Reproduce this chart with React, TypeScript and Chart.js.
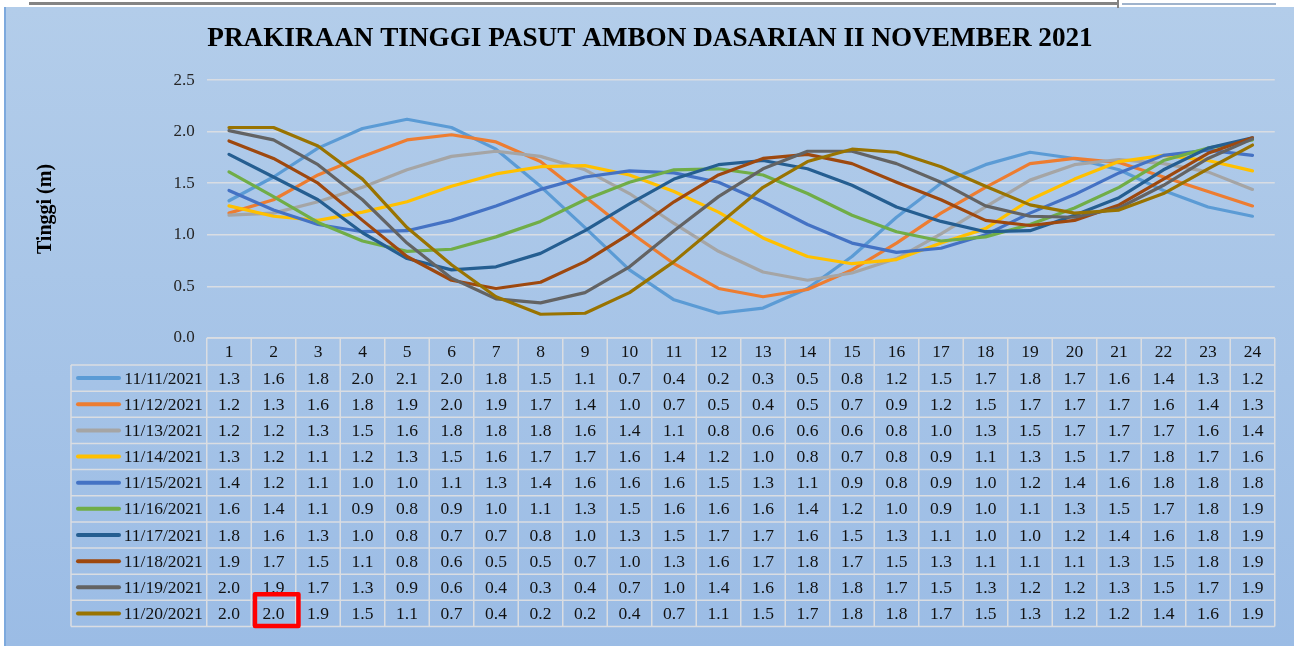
import React, { useEffect, useRef } from 'react';
import { Chart, registerables } from 'chart.js';

Chart.register(...registerables);

const chartTitle = 'PRAKIRAAN TINGGI PASUT AMBON DASARIAN II NOVEMBER 2021';
const yAxisTitle = 'Tinggi (m)';

const hours = ['1', '2', '3', '4', '5', '6', '7', '8', '9', '10', '11', '12', '13', '14', '15', '16', '17', '18', '19', '20', '21', '22', '23', '24'];

const dates = ['11/11/2021', '11/12/2021', '11/13/2021', '11/14/2021', '11/15/2021', '11/16/2021', '11/17/2021', '11/18/2021', '11/19/2021', '11/20/2021'];

const colors = ['#5B9BD5', '#ED7D31', '#A5A5A5', '#FFC000', '#4472C4', '#70AD47', '#255E91', '#9E480E', '#636363', '#997300'];

const nov11 = [1.33, 1.56, 1.84, 2.03, 2.12, 2.04, 1.83, 1.47, 1.07, 0.66, 0.37, 0.24, 0.29, 0.48, 0.79, 1.17, 1.5, 1.68, 1.8, 1.74, 1.63, 1.43, 1.27, 1.18];
const nov12 = [1.21, 1.34, 1.58, 1.76, 1.92, 1.97, 1.9, 1.71, 1.37, 1.03, 0.72, 0.48, 0.4, 0.47, 0.66, 0.92, 1.21, 1.46, 1.69, 1.74, 1.7, 1.56, 1.42, 1.28];
const nov13 = [1.19, 1.21, 1.32, 1.46, 1.63, 1.76, 1.81, 1.76, 1.63, 1.4, 1.11, 0.84, 0.64, 0.56, 0.63, 0.77, 1.01, 1.27, 1.53, 1.68, 1.73, 1.69, 1.61, 1.44];
const nov14 = [1.28, 1.18, 1.14, 1.22, 1.32, 1.47, 1.59, 1.66, 1.67, 1.58, 1.42, 1.22, 0.97, 0.79, 0.72, 0.76, 0.92, 1.06, 1.34, 1.54, 1.71, 1.77, 1.72, 1.62];
const nov15 = [1.43, 1.24, 1.1, 1.03, 1.04, 1.14, 1.28, 1.44, 1.56, 1.62, 1.6, 1.51, 1.32, 1.1, 0.92, 0.83, 0.87, 1.0, 1.21, 1.39, 1.6, 1.77, 1.82, 1.77];
const nov16 = [1.61, 1.37, 1.12, 0.94, 0.84, 0.86, 0.98, 1.13, 1.34, 1.51, 1.63, 1.64, 1.58, 1.4, 1.19, 1.03, 0.94, 0.98, 1.1, 1.26, 1.46, 1.72, 1.84, 1.92];
const nov17 = [1.78, 1.56, 1.34, 1.02, 0.77, 0.66, 0.69, 0.82, 1.04, 1.3, 1.54, 1.68, 1.72, 1.64, 1.48, 1.27, 1.13, 1.03, 1.04, 1.19, 1.36, 1.63, 1.84, 1.94];
const nov18 = [1.91, 1.74, 1.5, 1.14, 0.79, 0.56, 0.48, 0.54, 0.74, 1.01, 1.32, 1.58, 1.74, 1.78, 1.69, 1.51, 1.34, 1.14, 1.09, 1.14, 1.29, 1.54, 1.79, 1.94];
const nov19 = [2.01, 1.92, 1.68, 1.34, 0.92, 0.58, 0.38, 0.34, 0.44, 0.69, 1.04, 1.37, 1.64, 1.81, 1.81, 1.69, 1.51, 1.28, 1.18, 1.17, 1.26, 1.48, 1.74, 1.93];
const nov20 = [2.04, 2.04, 1.86, 1.54, 1.07, 0.71, 0.4, 0.23, 0.24, 0.44, 0.74, 1.1, 1.46, 1.71, 1.83, 1.8, 1.66, 1.47, 1.29, 1.21, 1.24, 1.4, 1.64, 1.87];

const series = [nov11, nov12, nov13, nov14, nov15, nov16, nov17, nov18, nov19, nov20];

const yMin = 0;
const yMax = 2.5;
const yStep = 0.5;

// highlighted cell (row of 11/20/2021, hour 2)
const highlightRow = 9;
const highlightCol = 1;

const SERIF = "'Liberation Serif', 'Times New Roman', serif";

const backgroundPlugin = {
  id: 'bgPlugin',
  beforeDraw(chart: any) {
    const { ctx, width, height } = chart;
    ctx.save();
    ctx.fillStyle = '#ffffff';
    ctx.fillRect(0, 0, width, height);
    const g = ctx.createLinearGradient(0, 7, 0, height);
    g.addColorStop(0, '#B3CDEA');
    g.addColorStop(1, '#9BBCE5');
    ctx.fillStyle = g;
    ctx.fillRect(5, 7, width - 5, height - 7);
    ctx.fillStyle = '#7DA9DD';
    ctx.fillRect(4, 7, 2, height - 7);
    ctx.fillStyle = '#848484';
    ctx.fillRect(29, 2, 1089, 3);
    ctx.fillRect(1117, 0, 2, 8);
    ctx.fillStyle = '#9FB3CC';
    ctx.fillRect(1122, 3, 154, 2);
    ctx.restore();
  },
};

const tablePlugin = {
  id: 'tablePlugin',
  afterDraw(chart: any) {
    const { ctx, chartArea } = chart;
    const xs = chart.scales.x;
    const left = chartArea.left;
    const right = chartArea.right;
    const colW = (right - left) / hours.length;
    const headTop = chartArea.bottom;
    const headH = 27;
    const rowH = 26.15;
    const legendLeft = 71;
    const rowsTop = headTop + headH;
    const tableBottom = rowsTop + rowH * dates.length;

    ctx.save();
    ctx.strokeStyle = '#DADDE2';
    ctx.lineWidth = 1.5;
    ctx.beginPath();
    ctx.moveTo(left, headTop);
    ctx.lineTo(right, headTop);
    for (let i = 0; i <= dates.length; i++) {
      const y = rowsTop + i * rowH;
      ctx.moveTo(legendLeft, y);
      ctx.lineTo(right, y);
    }
    for (let j = 0; j <= hours.length; j++) {
      const x = left + j * colW;
      ctx.moveTo(x, headTop);
      ctx.lineTo(x, tableBottom);
    }
    ctx.moveTo(legendLeft, rowsTop);
    ctx.lineTo(legendLeft, tableBottom);
    ctx.stroke();

    ctx.font = `17.5px ${SERIF}`;
    ctx.fillStyle = '#111111';
    ctx.textAlign = 'center';
    ctx.textBaseline = 'middle';
    hours.forEach((h, j) => {
      ctx.fillText(h, xs.getPixelForValue(j), headTop + headH / 2 + 1);
    });
    series.forEach((s, i) => {
      const cy = rowsTop + i * rowH + rowH / 2 + 1;
      ctx.fillStyle = '#111111';
      ctx.textAlign = 'center';
      s.forEach((v, j) => {
        ctx.fillText((Math.round(v * 10) / 10).toFixed(1), xs.getPixelForValue(j), cy);
      });
      ctx.textAlign = 'right';
      ctx.fillText(dates[i], left - 4, cy);
      ctx.strokeStyle = colors[i];
      ctx.lineWidth = 4;
      ctx.lineCap = 'round';
      ctx.beginPath();
      ctx.moveTo(78, cy - 1);
      ctx.lineTo(119, cy - 1);
      ctx.stroke();
    });

    // red highlight box
    const cellLeft = left + highlightCol * colW;
    const cellTop = rowsTop + highlightRow * rowH;
    ctx.strokeStyle = '#FF0000';
    ctx.lineWidth = 4.5;
    ctx.lineJoin = 'round';
    ctx.strokeRect(cellLeft + 3.7, cellTop - 6, colW - 1, rowH + 5.5);
    ctx.restore();
  },
};

export default function App() {
  const canvasRef = useRef<HTMLCanvasElement | null>(null);

  useEffect(() => {
    document.body.style.margin = '0';
    const canvas = canvasRef.current;
    if (!canvas) return;
    const chart = new Chart(canvas, {
      type: 'line',
      data: {
        labels: hours,
        datasets: series.map((s, i) => ({
          label: dates[i],
          data: s,
          borderColor: colors[i],
          backgroundColor: colors[i],
          borderWidth: 3.2,
          pointRadius: 0,
          tension: 0,
          fill: false,
          borderCapStyle: 'round',
          borderJoinStyle: 'round',
          order: series.length - i,
        })),
      },
      options: {
        animation: false,
        responsive: false,
        maintainAspectRatio: false,
        layout: { padding: { left: 25.25, right: 19.25, top: 0, bottom: 308 } },
        plugins: {
          legend: { display: false },
          tooltip: { enabled: false },
          title: {
            display: true,
            text: chartTitle,
            color: '#000000',
            font: { family: SERIF, size: 27.2, weight: 'bold', lineHeight: 1.2 },
            padding: { top: 22.2, bottom: 25.2 },
          },
        },
        scales: {
          x: {
            type: 'category',
            display: false,
            offset: true,
          },
          y: {
            min: yMin,
            max: yMax,
            ticks: {
              stepSize: yStep,
              padding: 12,
              color: '#262626',
              font: { family: SERIF, size: 17 },
              callback: (v: any) => Number(v).toFixed(1),
            },
            grid: { color: '#D9DDE3', lineWidth: 1.5, drawTicks: false },
            border: { display: false },
            title: {
              display: true,
              text: yAxisTitle,
              color: '#000000',
              font: { family: SERIF, size: 20, weight: 'bold', lineHeight: 1.2 },
              padding: { top: 8.25, bottom: 0 },
            },
            afterFit: (scale: any) => {
              scale.width = 181.5;
            },
          },
        },
      },
      plugins: [backgroundPlugin, tablePlugin],
    } as any);
    return () => chart.destroy();
  }, []);

  return (
    <div style={{ width: 1294, height: 646, overflow: 'hidden' }}>
      <canvas ref={canvasRef} width={1294} height={646} style={{ display: 'block', width: 1294, height: 646 }} />
    </div>
  );
}
